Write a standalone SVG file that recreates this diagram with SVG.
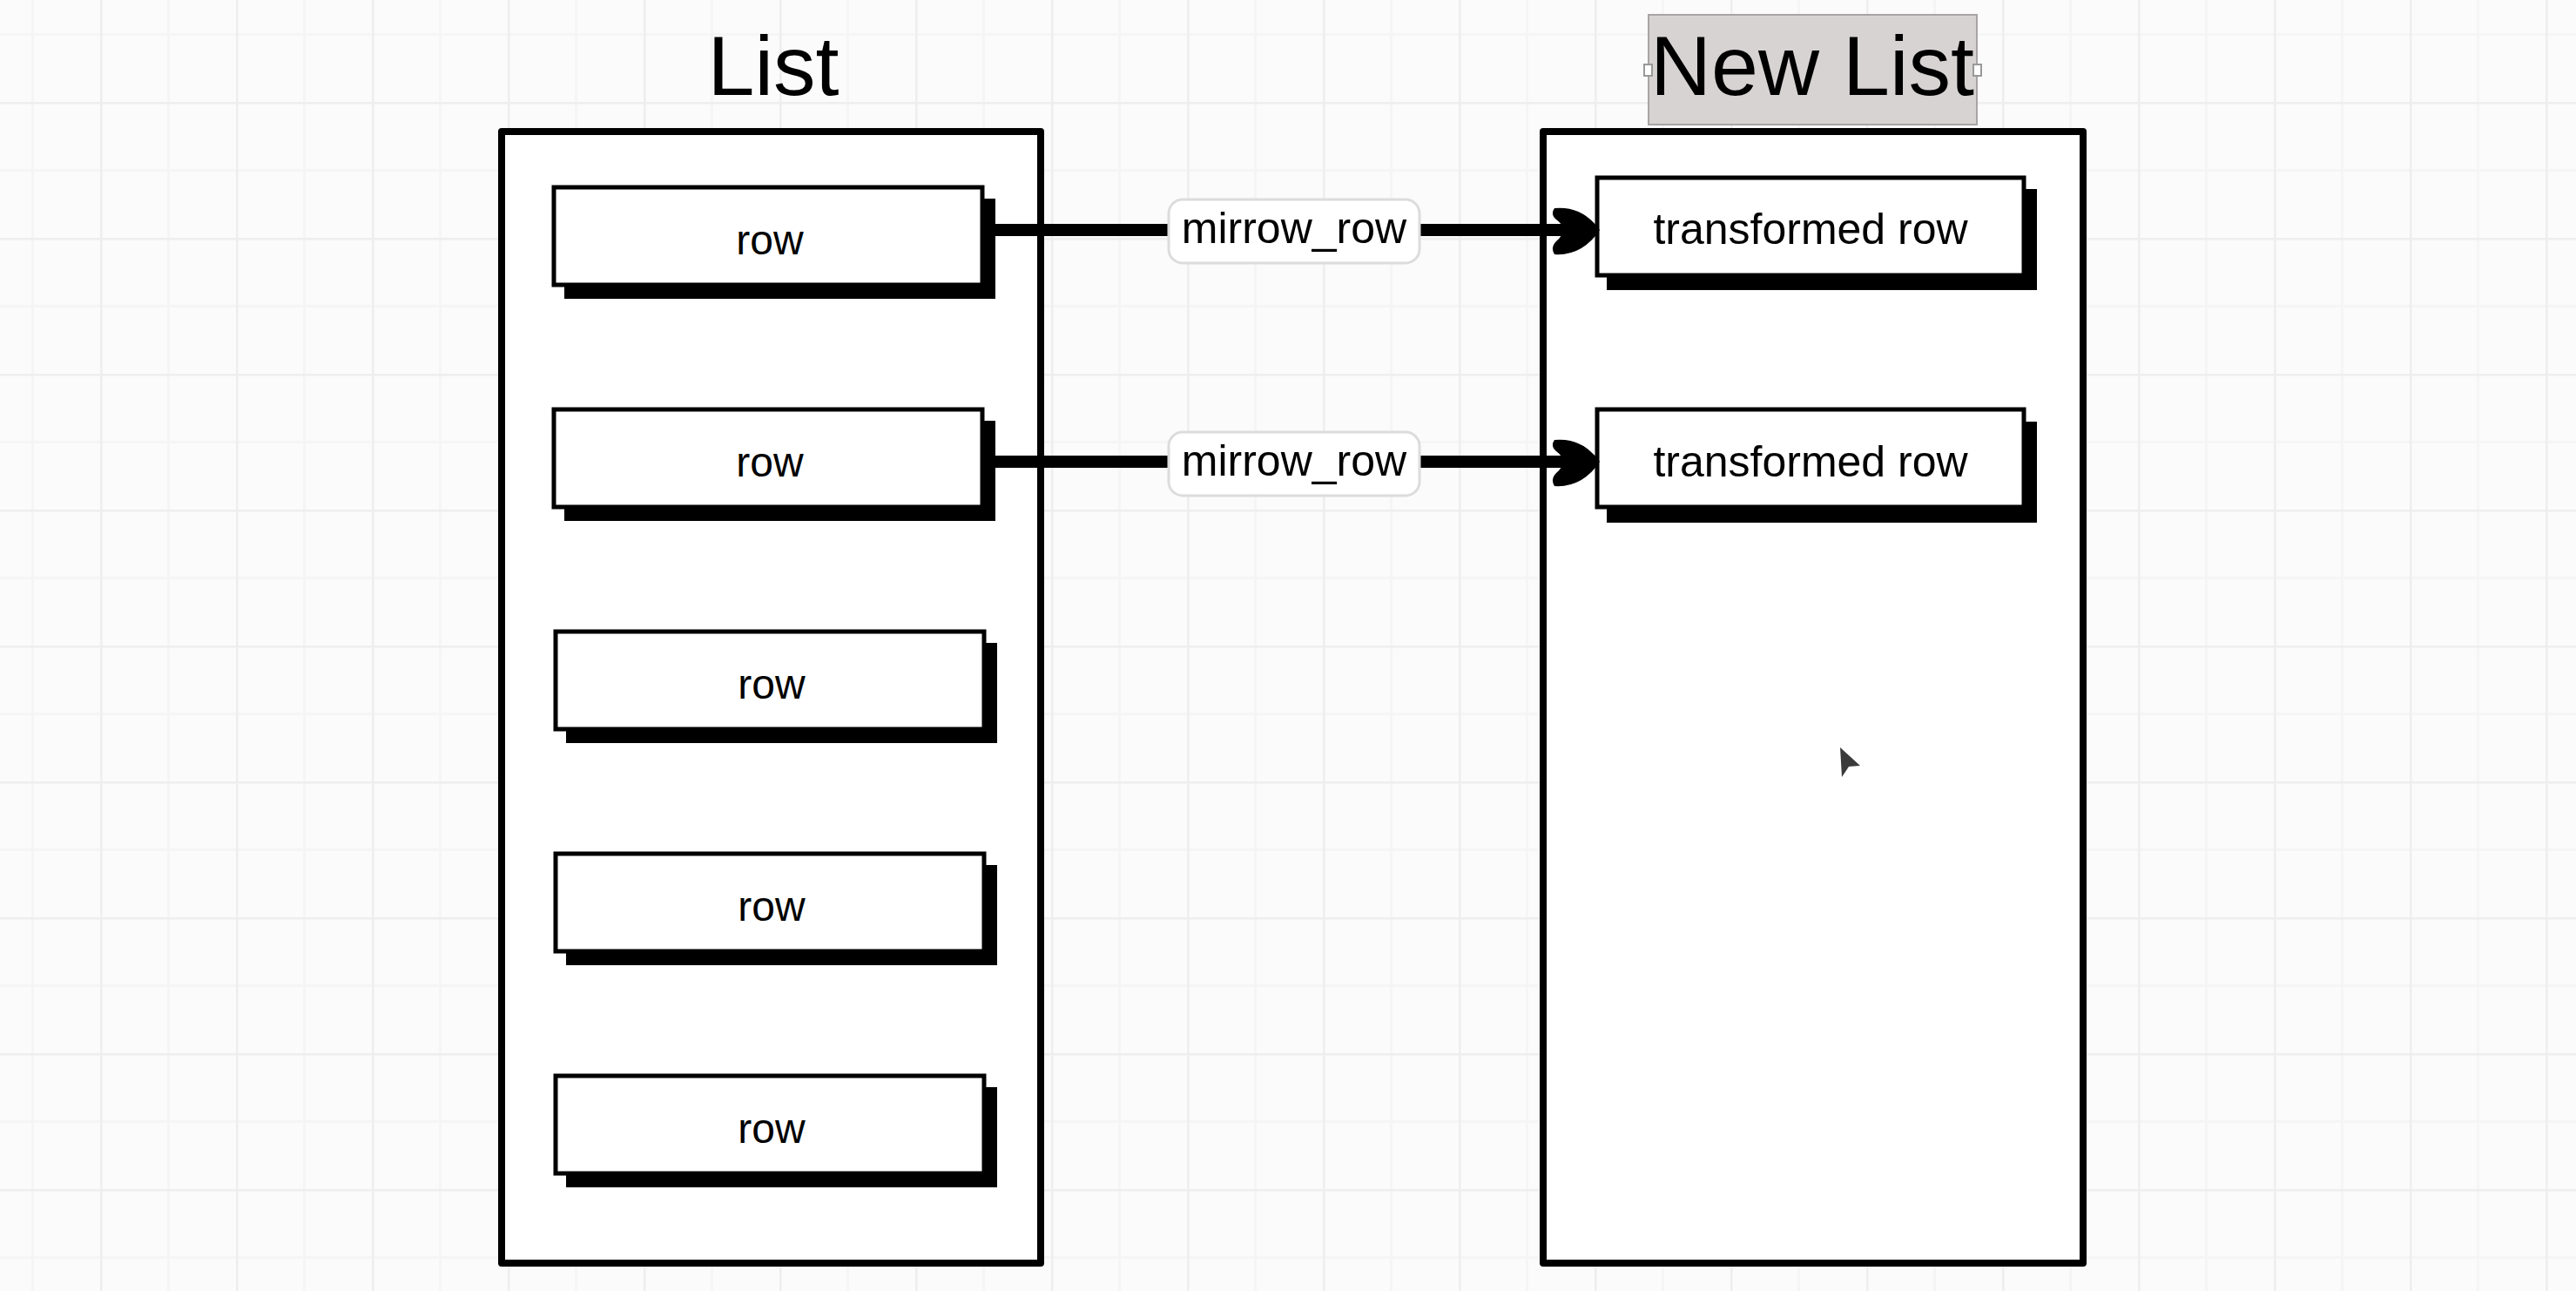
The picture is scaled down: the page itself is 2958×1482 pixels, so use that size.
<svg xmlns="http://www.w3.org/2000/svg" width="2958" height="1482" viewBox="0 0 2958 1482">
  <defs>
    <pattern id="grid" patternUnits="userSpaceOnUse" x="-41" y="-39" width="156" height="156">
      <path d="M78.5,0 V156 M0,78.5 H156" stroke="#f5f5f5" stroke-width="3" fill="none"/>
      <path d="M0.5,0 V156 M0,0.5 H156" stroke="#eeeeee" stroke-width="4" fill="none"/>
    </pattern>
    <path id="ah" d="M0,0 Q-20,-28 -52,-25 Q-57,-18 -50,-12 Q-42,-6 -42,0 Q-42,6 -50,13 Q-57,20 -52,28 Q-20,30 0,0 Z"/>
    <style>
      .container { fill: #ffffff; stroke: #000; stroke-width: 8; stroke-linejoin: round; }
      .box { fill: #ffffff; stroke: #000; stroke-width: 5; }
      .shadow { fill: #000; }
      .t { font-family: "Liberation Sans", Arial, sans-serif; fill: #000; text-anchor: middle; }
      .title { font-size: 97px; }
      .rowt { font-size: 48px; }
      .lbl { font-size: 50px; }
      .edge { stroke: #000; stroke-width: 14; fill: none; }
      .lblbox { fill: #ffffff; stroke: #dcdcdc; stroke-width: 3; }
      .arrow { fill: #000; }
    </style>
  </defs>

  <rect x="0" y="0" width="2958" height="1482" fill="#fbfbfb"/>
  <rect x="0" y="0" width="2958" height="1482" fill="url(#grid)"/>

  <g id="title-list">
    <text class="t title" x="888" y="109">List</text>
  </g>

  <g id="title-new-list">
    <rect x="1893" y="17" width="377" height="126" fill="#d8d3d3" stroke="#a8a4a4" stroke-width="2"/>
    <text class="t title" x="2081" y="109">New List</text>
    <rect x="1888" y="74" width="9" height="13" fill="#ffffff" stroke="#999" stroke-width="2"/>
    <rect x="2266" y="74" width="9" height="13" fill="#ffffff" stroke="#999" stroke-width="2"/>
  </g>

  <g id="list">
    <rect class="container" x="576" y="151" width="619" height="1299"/>
  </g>

  <g id="new-list">
    <rect class="container" x="1772" y="151" width="620" height="1299"/>
  </g>

  <g id="row-1">
    <rect class="shadow" x="648" y="228" width="495" height="115"/>
    <rect class="box" x="636" y="215" width="492" height="112"/>
    <text class="t rowt" x="884" y="292">row</text>
  </g>
  <g id="row-2">
    <rect class="shadow" x="648" y="483" width="495" height="115"/>
    <rect class="box" x="636" y="470" width="492" height="112"/>
    <text class="t rowt" x="884" y="547">row</text>
  </g>
  <g id="row-3">
    <rect class="shadow" x="650" y="738" width="495" height="115"/>
    <rect class="box" x="638" y="725" width="492" height="112"/>
    <text class="t rowt" x="886" y="802">row</text>
  </g>
  <g id="row-4">
    <rect class="shadow" x="650" y="993" width="495" height="115"/>
    <rect class="box" x="638" y="980" width="492" height="112"/>
    <text class="t rowt" x="886" y="1057">row</text>
  </g>
  <g id="row-5">
    <rect class="shadow" x="650" y="1248" width="495" height="115"/>
    <rect class="box" x="638" y="1235" width="492" height="112"/>
    <text class="t rowt" x="886" y="1312">row</text>
  </g>

  <g id="transformed-row-1">
    <rect class="shadow" x="1845" y="217" width="494" height="116"/>
    <rect class="box" x="1834" y="204" width="490" height="112"/>
    <text class="t lbl" x="2079" y="280">transformed row</text>
  </g>
  <g id="transformed-row-2">
    <rect class="shadow" x="1845" y="484" width="494" height="116"/>
    <rect class="box" x="1834" y="470" width="490" height="112"/>
    <text class="t lbl" x="2079" y="547">transformed row</text>
  </g>

  <g id="connectors">
    <line class="edge" x1="1143" y1="264" x2="1797" y2="264"/>
    <use href="#ah" class="arrow" transform="translate(1837,264)"/>
    <rect class="lblbox" x="1342" y="229" width="288" height="73" rx="16" ry="16"/>
    <text class="t lbl" x="1486" y="279">mirrow_row</text>

    <line class="edge" x1="1143" y1="530" x2="1797" y2="530"/>
    <use href="#ah" class="arrow" transform="translate(1837,530)"/>
    <rect class="lblbox" x="1342" y="496" width="288" height="73" rx="16" ry="16"/>
    <text class="t lbl" x="1486" y="546">mirrow_row</text>
  </g>

  <path d="M2113,858 L2136,879 L2123,880 L2115,892 Z" fill="#3a3a3a"/>
</svg>
